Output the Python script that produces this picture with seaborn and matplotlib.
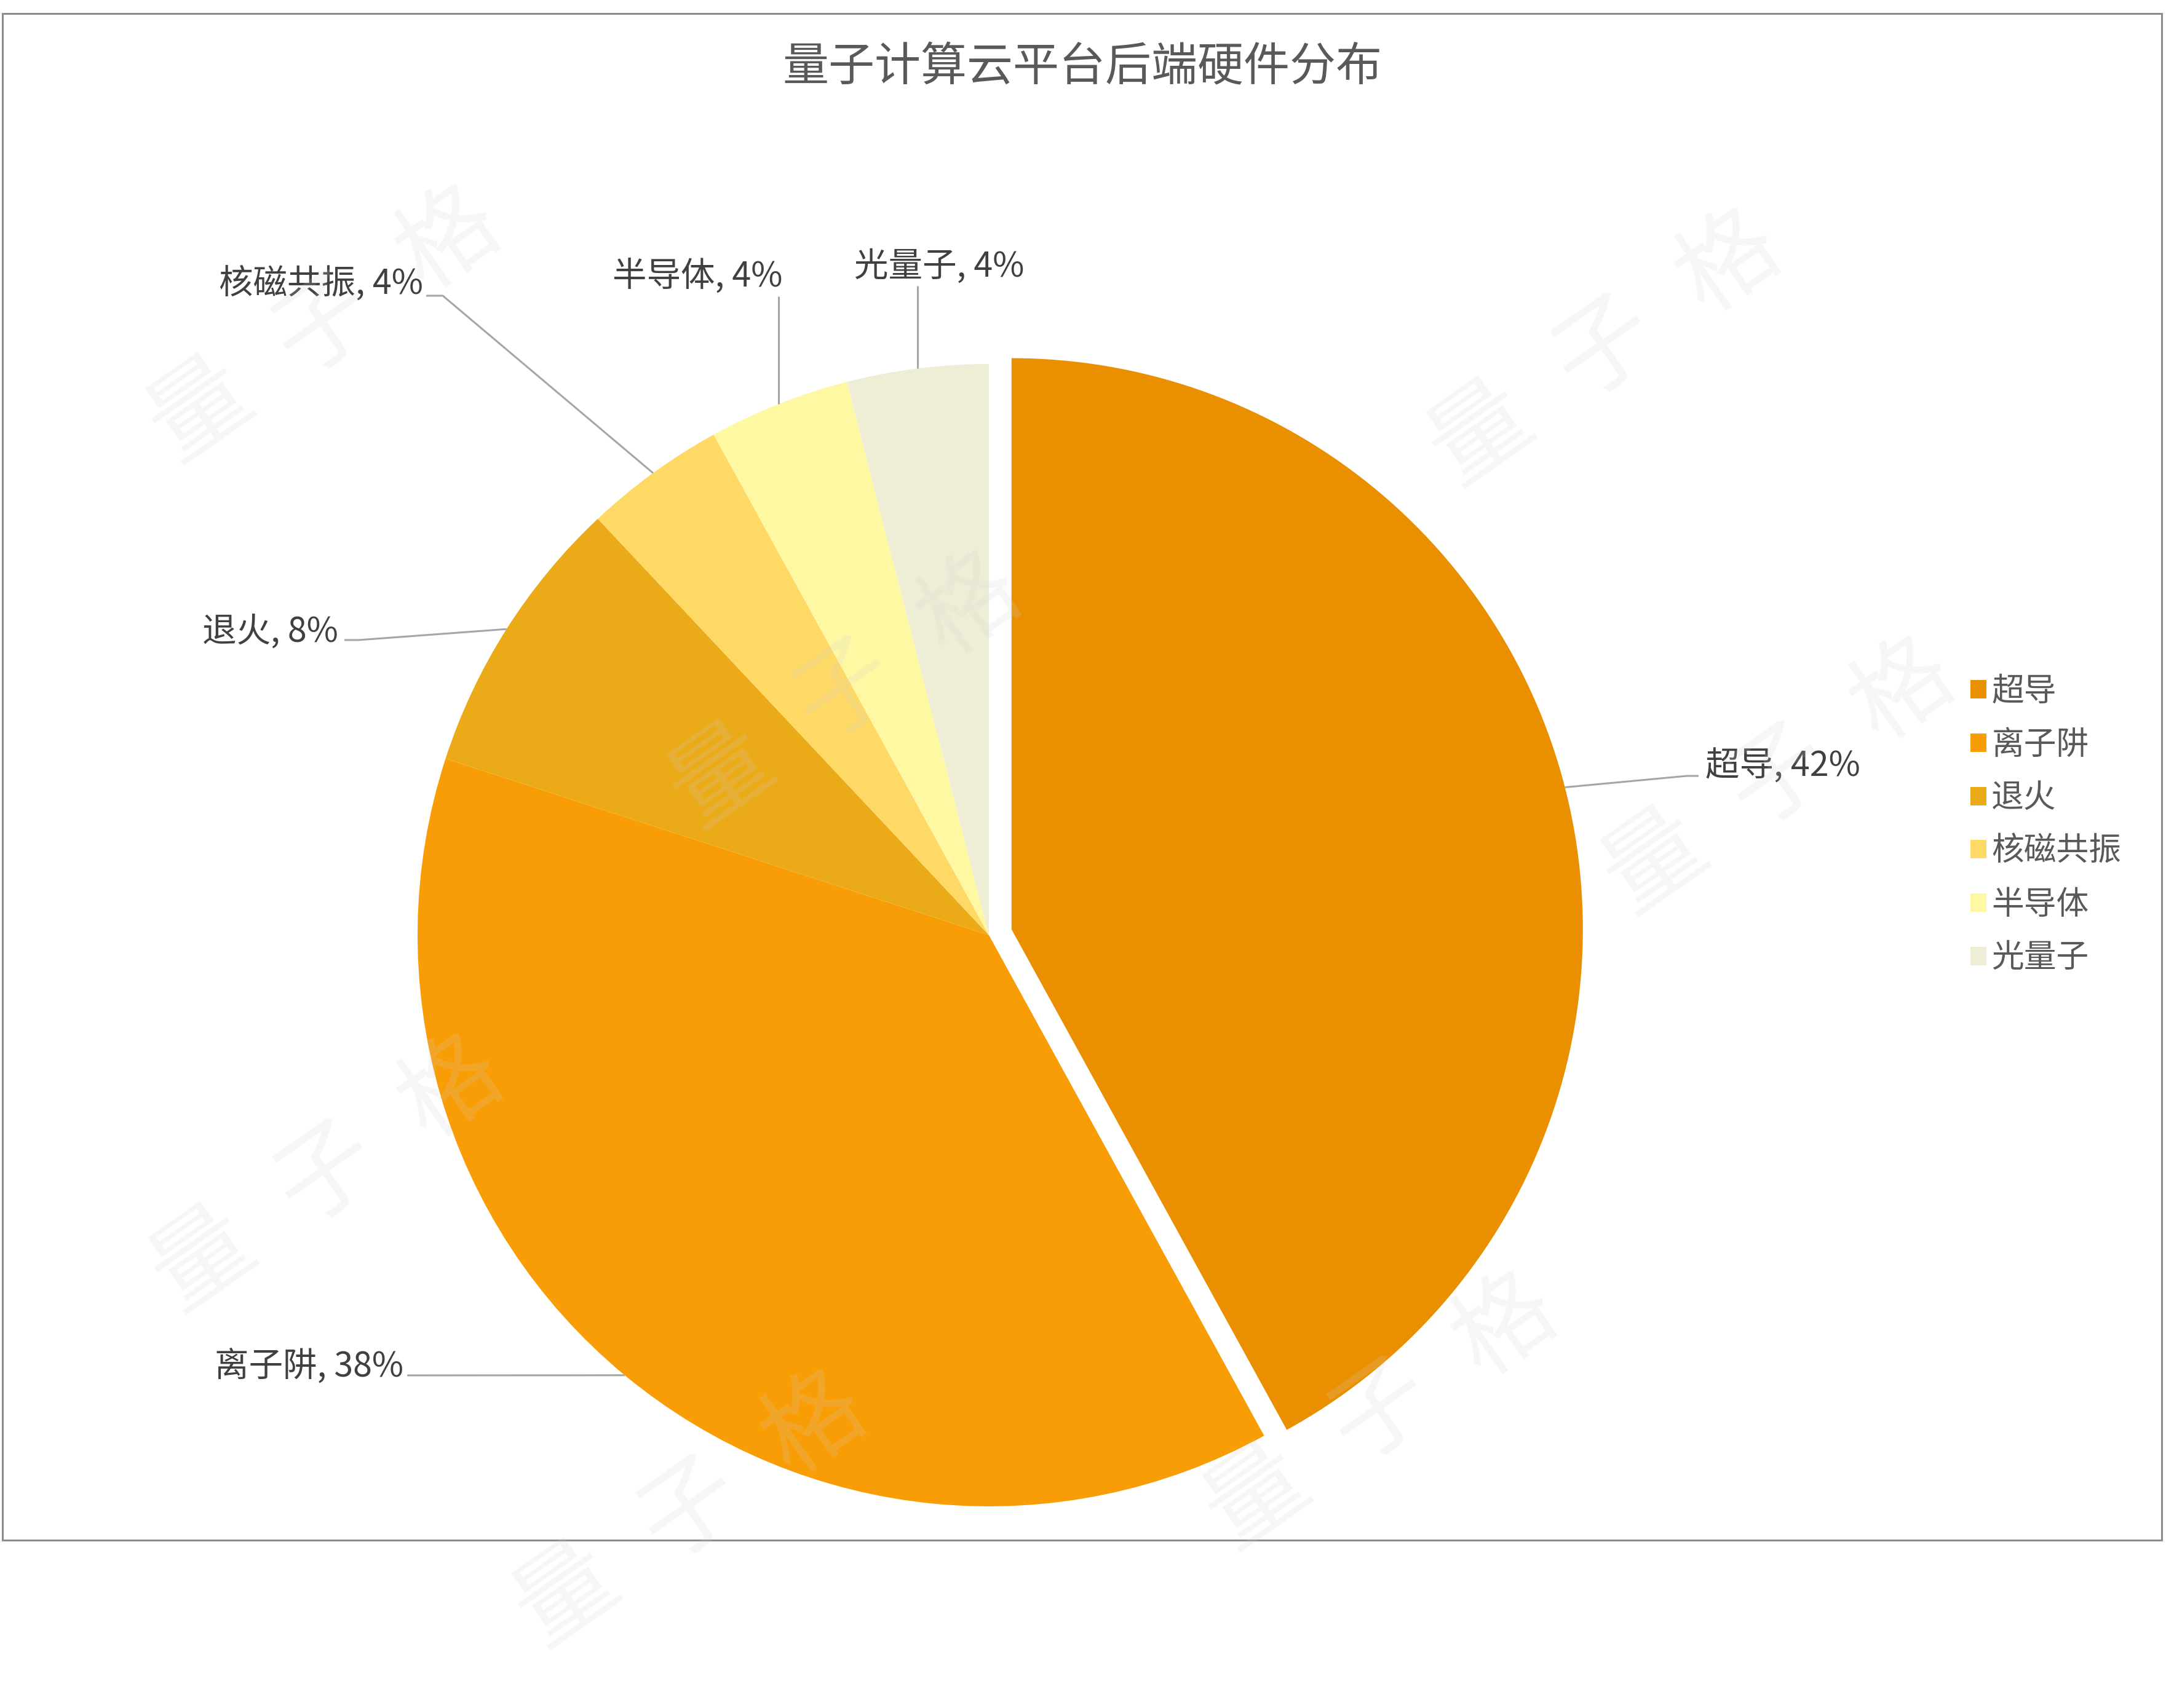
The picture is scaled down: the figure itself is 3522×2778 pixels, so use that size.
import numpy as np
import matplotlib
matplotlib.use('Agg')
import matplotlib.pyplot as plt
from matplotlib.patches import Rectangle
import seaborn as sns

# ---------------- data ----------------
categories = ['超导', '离子阱', '退火', '核磁共振', '半导体', '光量子']
shares = [42, 38, 8, 4, 4, 4]
title = '量子计算云平台后端硬件分布'
colors = ['#EA9000', '#F99D07', '#EBAA18', '#FFD966', '#FFF8A2', '#EEEDD6']

# ---------------- layout (pixel space, y measured from top) ----------------
W, H = 3522, 2778
DPI = 200
explode_px = [38, 0, 0, 0, 0, 0]   # offset of the pulled-out slice, in pixels

def Y(py):
    return H - py

sns.set_theme(style='white')
plt.rcParams['font.family'] = ['Noto Sans CJK SC', 'DejaVu Sans']

fig = plt.figure(figsize=(W / DPI, H / DPI), dpi=DPI)
fig.patch.set_facecolor('white')
ax = fig.add_axes([0, 0, 1, 1])

R = 929
center = (1608, Y(1521))
wedges, _ = ax.pie(shares, colors=sns.color_palette(colors), startangle=90,
                   counterclock=False, explode=explode_px, center=center, radius=R,
                   wedgeprops=dict(linewidth=0), frame=True)
ax.set_xlim(0, W)
ax.set_ylim(0, H)
ax.set_aspect('auto')
ax.axis('off')

# border
ax.add_patch(Rectangle((4, Y(2505)), 3511, 2505 - 22, fill=False,
                       edgecolor='#8C8C8C', lw=1.1, zorder=1, clip_on=False))

# title
fig.text(1760 / W, Y(110) / H, title, ha='center', va='center',
         fontsize=27, color='#595959')

# data labels with leader lines
label_texts = [f'{c}, {v}%' for c, v in zip(categories, shares)]
label_pos = [(2773, 1247, 'left'), (656, 2223, 'right'), (550, 1028, 'right'),
             (688, 462, 'right'), (1134, 450, 'center'), (1527, 434, 'center')]
leader_pts = [[(2762, 1262), (2743, 1262)],
              [(662, 2237), (680, 2237)],
              [(560, 1041), (583, 1041)],
              [(693, 481), (720, 481)],
              [(None, 482)],
              [(None, 465)]]

for w, txt, (tx, ty, ha), pts in zip(wedges, label_texts, label_pos, leader_pts):
    th = np.deg2rad((w.theta1 + w.theta2) / 2)
    axp = w.center[0] + w.r * np.cos(th)
    ayp = w.center[1] + w.r * np.sin(th)
    xs, ys = [], []
    for (px, py) in pts:
        xs.append(axp if px is None else px)
        ys.append(Y(py))
    xs.append(axp)
    ys.append(ayp)
    ax.plot(xs, ys, color='#A6A6A6', lw=1.1, solid_capstyle='butt', zorder=3)
    ax.text(tx, Y(ty), txt, ha=ha, va='center', fontsize=20, color='#404040', zorder=4)

# legend
leg = ax.legend(wedges, categories, loc='upper left',
                bbox_to_anchor=(3204 / W, Y(1097) / H), bbox_transform=fig.transFigure,
                frameon=False, fontsize=19, handlelength=0.5, handleheight=0.5,
                handletextpad=0.15, labelspacing=0.6, borderpad=0, borderaxespad=0)
for t in leg.get_texts():
    t.set_color('#595959')

# faint watermark
wm_chars = ['量', '子', '格']
wm_centers = [(528, 528), (1375, 1123), (2610, 566), (2893, 1262),
              (532, 1909), (1123, 2455), (2246, 2295)]
step = np.array([202, -139])
for (mx, my) in wm_centers:
    for k, ch in enumerate(wm_chars):
        px, py = np.array([mx, my]) + (k - 1) * step
        ax.text(px, Y(py), ch, ha='center', va='center', rotation=35,
                fontsize=58, color=(0.82, 0.82, 0.82), alpha=0.18, zorder=5,
                clip_on=False)

fig.savefig('out.png', dpi=DPI, facecolor='white')
